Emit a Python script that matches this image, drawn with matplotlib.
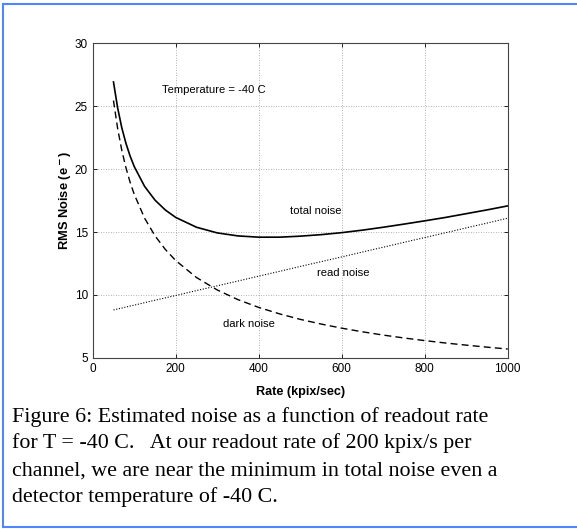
import matplotlib
matplotlib.use("Agg")
import matplotlib.pyplot as plt
from matplotlib.lines import Line2D

# readout rate (kpix/sec) and noise values (e-)
rate = [50, 60, 70, 80, 90, 100, 125, 150, 175, 200, 250, 300, 350, 400, 450,
        500, 550, 600, 650, 700, 750, 800, 850, 900, 950, 1000]
total_noise = [26.94, 24.88, 23.30, 22.06, 21.05, 20.21, 18.63, 17.54, 16.75, 16.16,
               15.38, 14.93, 14.69, 14.59, 14.59, 14.67, 14.79, 14.95, 15.15, 15.38,
               15.63, 15.89, 16.16, 16.46, 16.76, 17.08]
read_noise = [8.80, 8.88, 8.95, 9.03, 9.11, 9.18, 9.38, 9.57, 9.76, 9.95,
              10.34, 10.72, 11.10, 11.49, 11.87, 12.26, 12.64, 13.02, 13.41, 13.79,
              14.18, 14.56, 14.94, 15.33, 15.71, 16.10]
dark_noise = [25.46, 23.24, 21.51, 20.12, 18.97, 18.00, 16.10, 14.70, 13.61, 12.73,
              11.38, 10.39, 9.62, 9.00, 8.49, 8.05, 7.68, 7.35, 7.06, 6.80,
              6.57, 6.36, 6.17, 6.00, 5.84, 5.69]

xticks = [0, 200, 400, 600, 800, 1000]
yticks = [5, 10, 15, 20, 25, 30]

caption = ["Figure 6: Estimated noise as a function of readout rate",
           "for T = -40 C.   At our readout rate of 200 kpix/s per",
           "channel, we are near the minimum in total noise even a",
           "detector temperature of -40 C."]

plt.rcParams['font.family'] = ['Liberation Sans', 'DejaVu Sans']

fig = plt.figure(figsize=(5.77, 5.29), dpi=100)
ax = fig.add_axes([0.1607, 0.3238, 0.7193, 0.594])

ax.plot(rate, total_noise, color='black', lw=1.2, ls='-')
ax.plot(rate, dark_noise, color='black', lw=1.0, ls=(0, (5, 3)))
ax.plot(rate, read_noise, color='black', lw=0.8, ls=(0, (1, 1.5)))

ax.set_xlim(0, 1000)
ax.set_ylim(5, 30)
ax.set_xticks(xticks)
ax.set_yticks(yticks)
ax.grid(True, color='#999999', ls=(0, (1, 2)), lw=0.6)
ax.tick_params(direction='in', length=3, top=True, right=True, labelsize=8.5, width=0.6)
for s in ax.spines.values():
    s.set_linewidth(0.8)
    s.set_color('#444444')

ax.set_xlabel('Rate (kpix/sec)', fontsize=9.1, fontweight='bold', labelpad=8)
ax.set_ylabel('RMS Noise (e$^{\\bf -}$)', fontsize=9.3, fontweight='bold', labelpad=1)

ax.text(167, 26.3, 'Temperature = -40 C', fontsize=8.1, va='center')
ax.text(475, 16.7, 'total noise', fontsize=8.1, va='center')
ax.text(540, 11.7, 'read noise', fontsize=8.1, va='center')
ax.text(313, 7.66, 'dark noise', fontsize=8.1, va='center')

# caption under the chart
for i, line in enumerate(caption):
    y = 1 - (421.7 + i * 26.7) / 529
    fig.text(12.3 / 577, y, line, family='Liberation Serif', fontsize=15.8, va='baseline')

# blue frame on left, top and bottom
bc = '#4f86ff'
fig.add_artist(Line2D([3 / 577, 3 / 577], [1 - 4 / 529, 1 - 526.5 / 529], color=bc, lw=1.5))
fig.add_artist(Line2D([3 / 577, 1], [1 - 4 / 529, 1 - 4 / 529], color=bc, lw=1.5))
fig.add_artist(Line2D([3 / 577, 1], [1 - 526.5 / 529, 1 - 526.5 / 529], color=bc, lw=1.5))

fig.savefig('out.png', dpi=100)
